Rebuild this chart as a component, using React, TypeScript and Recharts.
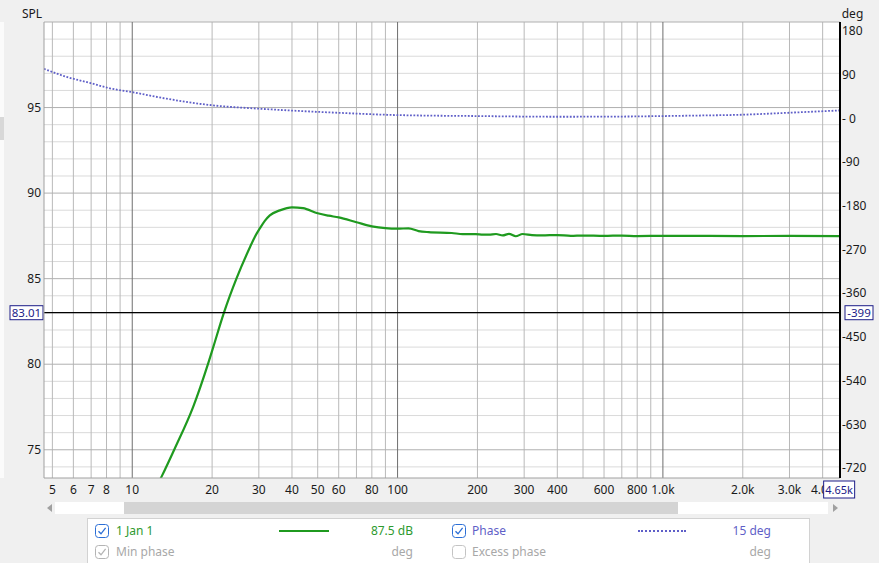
import React from "react";
import { LineChart, Line, XAxis, YAxis, ReferenceLine, CartesianGrid } from "recharts";

// measured SPL (green) - frequency in Hz, level in dB
const SPL_FREQS = [
  12.4, 12.9, 14.48, 16.97, 19.33, 20.2, 22.15, 24.7, 27.8, 29, 30.3, 31.6, 33, 36, 40, 44,
  50, 55, 60, 70, 80, 90, 100, 110, 120, 131, 160, 176, 197, 210, 221, 235, 249, 263, 279,
  296, 321, 350, 400, 450, 500, 600, 700, 800, 1000, 1500, 2000, 3000, 4650,
];
const SPL_DB = [
  72.9, 73.43, 75.09, 77.51, 80.05, 81.0, 83.0, 85.0, 86.85, 87.45, 87.95, 88.38, 88.7,
  88.99, 89.17, 89.12, 88.82, 88.68, 88.58, 88.3, 88.06, 87.95, 87.92, 87.94, 87.78, 87.72,
  87.67, 87.6, 87.6, 87.57, 87.57, 87.61, 87.53, 87.62, 87.48, 87.61, 87.55, 87.53, 87.55,
  87.5, 87.52, 87.5, 87.52, 87.49, 87.5, 87.5, 87.49, 87.5, 87.48,
];

// phase (dotted) - degrees
const PHASE_FREQS = [4.65, 5.66, 6.93, 8.24, 10, 13.5, 20, 30, 42, 60, 100, 200, 400, 700, 1000, 1400, 2000, 3000, 4650];
const PHASE_DEG = [102, 85.5, 73, 62, 54, 40.5, 27, 20, 15.5, 11.5, 6.8, 4.8, 3.4, 3.8, 4.8, 6, 7.6, 11.7, 16.4];

const FREQ_TICKS = [5, 6, 7, 8, 10, 20, 30, 40, 50, 60, 80, 100, 200, 300, 400, 600, 800, 1000, 2000, 3000, 4000];
const FREQ_GRID_MINOR = [
  5, 6, 7, 8, 9, 20, 30, 40, 50, 60, 70, 80, 90, 200, 300, 400, 500, 600, 700, 800, 900,
  2000, 3000, 4000,
];
const FREQ_GRID_DECADE = [10, 100, 1000];
const SPL_TICKS = [75, 80, 85, 90, 95];
const SPL_GRID_MINOR = [
  74, 76, 77, 78, 79, 81, 82, 83, 84, 86, 87, 88, 89, 91, 92, 93, 94, 96, 97, 98, 99,
];
const SPL_GRID_MAJOR = [75, 80, 85, 90, 95, 100];
const PHASE_TICKS = [180, 90, 0, -90, -180, -270, -360, -450, -540, -630, -720];

const CURSOR_FREQ = 4650;
const CURSOR_FREQ_TEXT = "4.65k";
const CURSOR_SPL = 83.01;
const CURSOR_PHASE = -399;

const FONT = "'Noto Sans', 'Open Sans', sans-serif";
const GREEN = "#1f9a1f";
const PHASE_COLOR = "#5f5fc8";
const CURSOR_TEXT = "#1c1c88";

const splData = SPL_FREQS.map((f, i) => ({ f, spl: SPL_DB[i] }));
const phaseData = PHASE_FREQS.map((f, i) => ({ f, phase: PHASE_DEG[i] }));

const fmtFreq = (f: number) => (f >= 1000 ? (f / 1000).toFixed(1) + "k" : String(f));
const fmtPhase = (v: number) => (v === 0 ? "- 0" : String(v));

const CursorYLabel = (props: any) => {
  const { x, y, width } = props.viewBox;
  return (
    <g fontFamily={FONT} fontSize={11.5}>
      <rect x={x - 34} y={y - 7} width={33} height={14} fill="#fff" stroke={CURSOR_TEXT} />
      <text x={x - 17.5} y={y + 4.2} textAnchor="middle" fill={CURSOR_TEXT}>
        {CURSOR_SPL.toFixed(2)}
      </text>
      <rect x={x + width + 5} y={y - 7} width={28} height={14} fill="#fff" stroke={CURSOR_TEXT} />
      <text x={x + width + 19} y={y + 4.2} textAnchor="middle" fill={CURSOR_TEXT}>
        {CURSOR_PHASE}
      </text>
    </g>
  );
};

// the last x tick ("4.0k") is drawn partly hidden behind the cursor box, as in REW
const FreqTick = (props: any) => {
  const { x, y, payload } = props;
  const last = payload.value === FREQ_TICKS[FREQ_TICKS.length - 1];
  return (
    <g fontFamily={FONT} fontSize={12}>
      <text x={x} y={y} dy="0.71em" textAnchor="middle" fill="#1a1a1a">
        {fmtFreq(payload.value)}
      </text>
      {last && (
        <g>
          <rect x={x + 1} y={y - 4} width={31} height={17} fill="#fff" stroke={CURSOR_TEXT} />
          <text x={x + 16.5} y={y + 8.5} fontSize={11} textAnchor="middle" fill={CURSOR_TEXT}>
            {CURSOR_FREQ_TEXT}
          </text>
        </g>
      )}
    </g>
  );
};

const CheckBox = ({ checked, color }: { checked: boolean; color: string }) => (
  <svg width={14} height={14} style={{ display: "block" }}>
    <rect x={0.5} y={0.5} width={13} height={13} rx={3} fill="#fff" stroke={color} />
    {checked && <path d="M3.5 7.2 L6 9.8 L10.6 3.8" fill="none" stroke={color} strokeWidth={1.3} />}
  </svg>
);

const abs = (left: number, top: number, extra: React.CSSProperties = {}): React.CSSProperties => ({
  position: "absolute",
  left,
  top,
  ...extra,
});

export default function App() {
  return (
    <div
      style={{
        position: "absolute",
        left: 0,
        top: 0,
        width: 879,
        height: 563,
        background: "#f0f0f0",
        overflow: "hidden",
        fontFamily: FONT,
      }}
    >
      <div style={abs(0, 22, { width: 4, height: 456, background: "#fbfbfb" })} />
      <div style={abs(0, 117, { width: 4, height: 23, background: "#d8d8d8" })} />
      <LineChart width={879} height={563} margin={{ top: 22, right: 0, bottom: 63, left: 0 }}>
        <CartesianGrid fill="#ffffff" horizontal={false} vertical={false} />
        <XAxis
          dataKey="f"
          type="number"
          scale="log"
          domain={[4.65, 4650]}
          allowDataOverflow
          ticks={FREQ_TICKS}
          interval={0}
          tickFormatter={fmtFreq}
          height={22}
          tickLine={false}
          tickSize={0}
          tickMargin={7}
          axisLine={{ stroke: "#a0a0a0" }}
          tick={<FreqTick />}
        />
        <YAxis
          yAxisId="spl"
          domain={[73.35, 100]}
          allowDataOverflow
          ticks={SPL_TICKS}
          interval={0}
          width={44}
          tickLine={false}
          tickSize={0}
          tickMargin={3}
          axisLine={{ stroke: "#a0a0a0" }}
          tick={{ fill: "#1a1a1a", fontSize: 12, fontFamily: FONT }}
          label={{ value: "SPL", position: "top", offset: 4, dx: 10, fill: "#1a1a1a", fontSize: 12, fontFamily: FONT }}
        />
        <YAxis
          yAxisId="phase"
          orientation="right"
          domain={[-740.5, 198.5]}
          allowDataOverflow
          ticks={PHASE_TICKS}
          interval={0}
          width={39}
          tickLine={false}
          tickSize={0}
          tickMargin={2}
          tickFormatter={fmtPhase}
          axisLine={{ stroke: "#000", strokeWidth: 2 }}
          tick={{ fill: "#1a1a1a", fontSize: 12, fontFamily: FONT, textAnchor: "start" }}
          label={{ value: "deg", position: "top", offset: 4, dx: -7, fill: "#1a1a1a", fontSize: 12, fontFamily: FONT }}
        />
        {SPL_GRID_MINOR.map((v) => (
          <ReferenceLine key={`hm${v}`} yAxisId="spl" y={v} stroke="#dadada" />
        ))}
        {FREQ_GRID_MINOR.map((f) => (
          <ReferenceLine key={`vm${f}`} yAxisId="spl" x={f} stroke="#b9b9b9" />
        ))}
        {SPL_GRID_MAJOR.map((v) => (
          <ReferenceLine key={`hM${v}`} yAxisId="spl" y={v} stroke="#b0b0b0" />
        ))}
        {FREQ_GRID_DECADE.map((f) => (
          <ReferenceLine key={`vM${f}`} yAxisId="spl" x={f} stroke="#6e6e6e" />
        ))}
        <Line
          yAxisId="phase"
          data={phaseData}
          dataKey="phase"
          type="monotone"
          stroke={PHASE_COLOR}
          strokeWidth={1.8}
          strokeDasharray="1.8 1.6"
          dot={false}
          activeDot={false}
          isAnimationActive={false}
        />
        <Line
          yAxisId="spl"
          data={splData}
          dataKey="spl"
          type="monotone"
          stroke={GREEN}
          strokeWidth={2.2}
          dot={false}
          activeDot={false}
          isAnimationActive={false}
        />
        <ReferenceLine yAxisId="spl" y={CURSOR_SPL} stroke="#000" strokeWidth={1.2} label={CursorYLabel} />
        <ReferenceLine yAxisId="spl" x={CURSOR_FREQ} stroke="#000" strokeWidth={2} />
      </LineChart>

      {/* scrollbar */}
      <div style={abs(55, 502, { width: 773, height: 12, background: "#ffffff" })} />
      <div style={abs(124, 502, { width: 554, height: 12, background: "#d4d4d4" })} />
      <svg style={abs(46, 503)} width={8} height={10}>
        <path d="M6 1 L1 5 L6 9 Z" fill="#a0a0a0" />
      </svg>
      <svg style={abs(831, 503)} width={8} height={10}>
        <path d="M2 1 L7 5 L2 9 Z" fill="#a0a0a0" />
      </svg>

      {/* legend panel */}
      <div
        style={abs(87, 518, {
          width: 721,
          height: 50,
          background: "#fff",
          border: "1px solid #d2d2d2",
          fontSize: 12,
        })}
      >
        <div style={abs(7, 5)}><CheckBox checked color="#2c6fd6" /></div>
        <div style={abs(28, 3, { color: "#2e9a2e" })}>1 Jan 1</div>
        <div style={abs(191, 11, { width: 50, height: 2, background: GREEN })} />
        <div style={abs(200, 3, { width: 125, textAlign: "right", color: "#2e9a2e" })}>87.5 dB</div>
        <div style={abs(364, 5)}><CheckBox checked color="#2c6fd6" /></div>
        <div style={abs(384, 3, { color: PHASE_COLOR })}>Phase</div>
        <div
          style={abs(550, 11, {
            width: 48,
            height: 0,
            borderTop: `2px dotted ${PHASE_COLOR}`,
          })}
        />
        <div style={abs(558, 3, { width: 125, textAlign: "right", color: PHASE_COLOR })}>15 deg</div>

        <div style={abs(7, 26)}><CheckBox checked color="#b4b4b4" /></div>
        <div style={abs(28, 24, { color: "#a8a8a8" })}>Min phase</div>
        <div style={abs(200, 24, { width: 125, textAlign: "right", color: "#a8a8a8" })}>deg</div>
        <div style={abs(364, 26)}><CheckBox checked={false} color="#c4c4c4" /></div>
        <div style={abs(384, 24, { color: "#a8a8a8" })}>Excess phase</div>
        <div style={abs(558, 24, { width: 125, textAlign: "right", color: "#a8a8a8" })}>deg</div>
      </div>
    </div>
  );
}
